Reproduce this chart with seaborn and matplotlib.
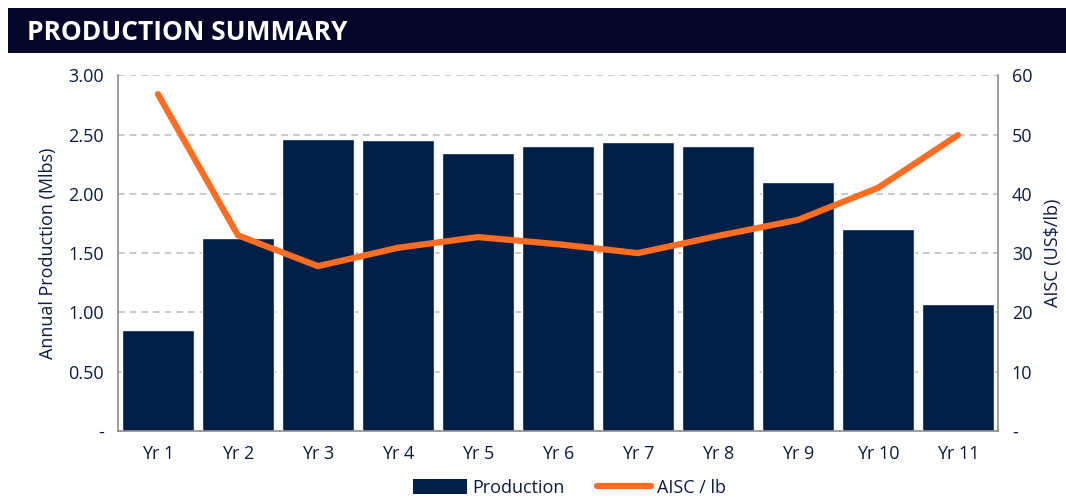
import matplotlib
matplotlib.use("Agg")
import matplotlib.pyplot as plt
import seaborn as sns
import pandas as pd
from matplotlib.patches import Rectangle
from matplotlib.lines import Line2D
from matplotlib.ticker import FuncFormatter

years = ["Yr 1", "Yr 2", "Yr 3", "Yr 4", "Yr 5", "Yr 6", "Yr 7", "Yr 8", "Yr 9", "Yr 10", "Yr 11"]
production = [0.85, 1.63, 2.46, 2.45, 2.34, 2.40, 2.44, 2.40, 2.10, 1.70, 1.07]
aisc = [56.8, 33.0, 27.8, 30.9, 32.7, 31.5, 30.0, 32.9, 35.6, 41.0, 49.9]

sns.set_theme(style="white")
plt.rcParams['font.family'] = ['Open Sans', 'DejaVu Sans']

navy = "#001f47"
orange = "#ff6d22"
txt = "#0d1b3e"

df = pd.DataFrame({"year": years, "production": production, "aisc": aisc})

fig = plt.figure(figsize=(10.66, 4.98), dpi=100)
ax = fig.add_axes([0.1107, 0.1345, 0.8255, 0.7145])

sns.barplot(data=df, x="year", y="production", color=navy, saturation=1, width=0.9, ax=ax, zorder=2)
ax.set_ylim(0, 3.0)
ax.set_yticks([0, 0.5, 1.0, 1.5, 2.0, 2.5, 3.0])
ax.yaxis.set_major_formatter(FuncFormatter(lambda v, p: "-" if v == 0 else f"{v:.2f}"))
ax.grid(axis="y", color="#c0c0c0", linestyle=(0, (4, 3)), linewidth=1.2, zorder=0)
ax.set_axisbelow(True)
ax.set_xlabel("")
ax.set_ylabel("Annual Production (Mlbs)", fontsize=13, color=txt, labelpad=8)
ax.tick_params(axis="both", labelsize=13, colors=txt, length=0, pad=10)
for s in ["left", "bottom"]:
    ax.spines[s].set_color("#8c8c8c")
    ax.spines[s].set_linewidth(1.2)
ax.spines["top"].set_visible(False)
ax.spines["right"].set_visible(False)

ax2 = ax.twinx()
sns.lineplot(data=df, x="year", y="aisc", color=orange, linewidth=4.5, ax=ax2, sort=False, solid_capstyle="round")
ax2.set_ylim(0, 60)
ax2.set_yticks([0, 10, 20, 30, 40, 50, 60])
ax2.yaxis.set_major_formatter(FuncFormatter(lambda v, p: "-" if v == 0 else f"{v:.0f}"))
ax2.set_ylabel("AISC (US$/lb)", fontsize=13, color=txt, labelpad=8)
ax2.tick_params(axis="y", labelsize=13, colors=txt, length=0, pad=10)
for s in ["top", "left", "bottom"]:
    ax2.spines[s].set_visible(False)
ax2.spines["right"].set_color("#8c8c8c")
ax2.spines["right"].set_linewidth(1.2)
ax2.grid(False)
ax2.set_xlabel("")
ax.set_xlim(-0.5, len(years) - 0.5)
ax2.set_xlim(-0.5, len(years) - 0.5)

# Title banner
fig.patches.append(Rectangle((8/1066, 1-53/498), 1-8/1066, 45/498, transform=fig.transFigure,
                             facecolor="#05052a", edgecolor="none", zorder=0))
fig.text(27/1066, 1-33/498, "PRODUCTION SUMMARY", color="white", fontsize=19, fontweight="bold",
         va="center", ha="left")

handles = [Rectangle((0, 0), 1, 1, facecolor=navy, edgecolor="none"),
           Line2D([0], [0], color=orange, linewidth=4.5, solid_capstyle="round")]
fig.legend(handles, ["Production", "AISC / lb"], loc="lower center", bbox_to_anchor=(0.534, -0.03),
           ncol=2, frameon=False, fontsize=13, handlelength=3.0, handleheight=0.9, columnspacing=1.8,
           handletextpad=0.3, labelcolor=txt)

fig.savefig("out.png", dpi=100)
